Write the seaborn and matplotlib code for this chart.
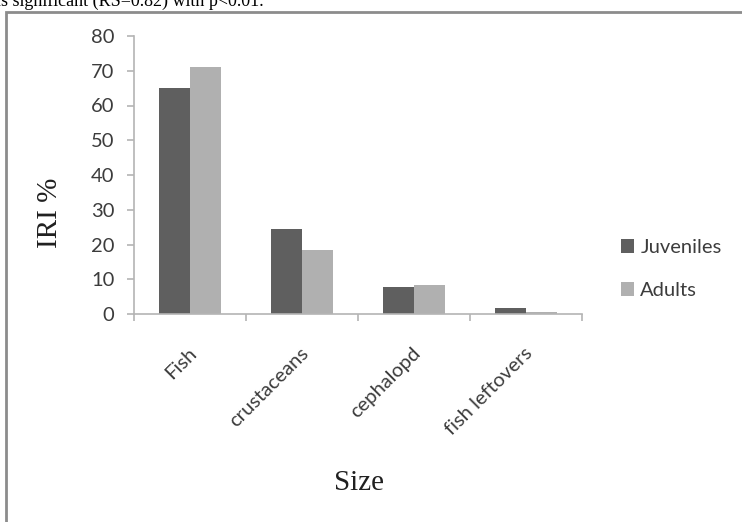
import pandas as pd
import matplotlib.pyplot as plt
import seaborn as sns
from matplotlib.patches import Rectangle
from matplotlib.transforms import ScaledTranslation

sns.set_style("white")
plt.rcParams['font.family'] = ['Lato', 'DejaVu Sans']

# Data
categories = ['Fish', 'crustaceans', 'cephalopd', 'fish leftovers']
juveniles = [65, 24.6, 7.8, 1.7]
adults = [71.2, 18.3, 8.3, 0.6]
stages = ['Juveniles', 'Adults']
yticks = [0, 10, 20, 30, 40, 50, 60, 70, 80]

df = pd.DataFrame({
    'food': categories * 2,
    'stage': ['Juveniles'] * len(categories) + ['Adults'] * len(categories),
    'iri': juveniles + adults,
})

W, H = 742, 522
fig = plt.figure(figsize=(W / 100, H / 100), dpi=100)
ax = fig.add_axes([134 / W, 1 - 314 / H, (582 - 134) / W, (314 - 36) / H])

sns.barplot(data=df, x='food', y='iri', hue='stage', hue_order=stages,
            palette=['#5f5f5f', '#b0b0b0'], saturation=1, width=0.55,
            linewidth=0, ax=ax)

axis_col = '#b4b4b4'
text_col = '#3c3c3c'
ax.set_ylim(0, 80)
ax.set_yticks(yticks)
ax.set_xlim(-0.5, len(categories) - 0.5)
for side in ['top', 'right']:
    ax.spines[side].set_visible(False)
for side in ['left', 'bottom']:
    ax.spines[side].set_color(axis_col)
    ax.spines[side].set_linewidth(1.2)

# y ticks outward, x ticks between the categories
ax.tick_params(axis='y', direction='out', length=5, width=1.2, color=axis_col,
               labelsize=14.5, labelcolor=text_col, pad=9, left=True)
ax.set_xticks([i - 0.5 for i in range(len(categories) + 1)], minor=True)
ax.tick_params(axis='x', which='minor', direction='out', length=5, width=1.2,
               color=axis_col, bottom=True)
ax.tick_params(axis='x', which='major', length=0, labelsize=14.5,
               labelcolor=text_col, pad=22)
ax.set_xticks(range(len(categories)))
ax.set_xticklabels(categories, rotation=45, ha='right', rotation_mode='anchor')
offset = ScaledTranslation(-2 / 100, 0, fig.dpi_scale_trans)
for lab in ax.get_xticklabels():
    lab.set_transform(lab.get_transform() + offset)

ax.set_xlabel('Size', family='Liberation Serif', fontsize=21, color='#202020')
ax.xaxis.set_label_coords((359 - 134) / 448, (314 - 470) / 278)
ax.set_ylabel('IRI %', family='Liberation Serif', fontsize=21, color='#202020')
ax.yaxis.set_label_coords((63 - 134) / 448, (314 - 213) / 278)

handles, labels = ax.get_legend_handles_labels()
ax.legend(handles, labels, loc='center left', bbox_to_anchor=(603 / W, 1 - 269 / H),
          bbox_transform=fig.transFigure, frameon=False, fontsize=14.5,
          handlelength=0.65, handleheight=0.65, handletextpad=0.3,
          labelspacing=1.3, labelcolor=text_col)

# chart frame, cut by the page edges
fig.patches.append(Rectangle((6 / W, -0.2), 1.2, 1.2 - 12 / H,
                             transform=fig.transFigure, fill=False,
                             edgecolor='#8c8c8c', linewidth=2))

# caption fragment from the page above the chart
fig.text(264 / W, 1 - 6 / H, 'was significant (RS=0.82) with p<0.01.',
         family='Liberation Serif', fontsize=13, ha='right', va='baseline',
         color='black')

fig.savefig('out.png', dpi=100)
